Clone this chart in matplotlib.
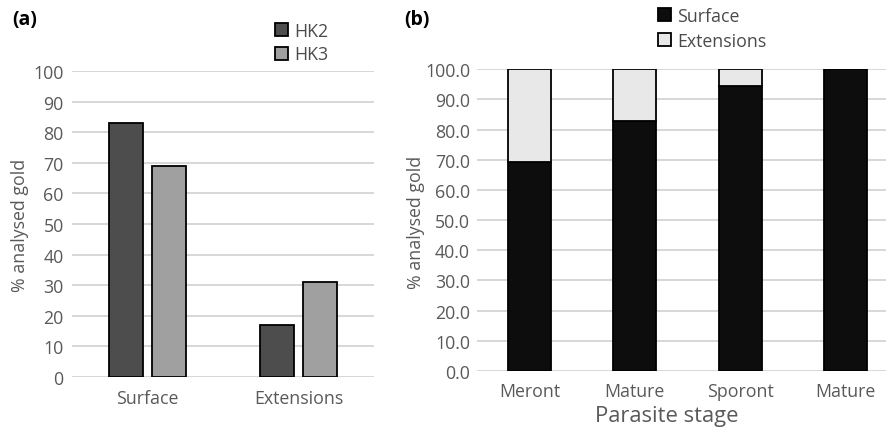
import matplotlib
matplotlib.use("Agg")
import matplotlib.pyplot as plt
import numpy as np

plt.rcParams['font.family'] = ['Open Sans', 'DejaVu Sans']

# Panel (a)
cats_a = ["Surface", "Extensions"]
hk2 = [83, 17]
hk3 = [69, 31]
yticks_a = [0, 10, 20, 30, 40, 50, 60, 70, 80, 90, 100]

# Panel (b)
stages = ["Meront", "Mature", "Sporont", "Mature"]
surface_b = [69.2, 82.8, 94.4, 100.0]
extensions_b = [30.8, 17.2, 5.6, 0.0]
yticks_b = [0, 10, 20, 30, 40, 50, 60, 70, 80, 90, 100]

TXT = "#595959"
GRID = "#d4d4d4"
FS = 12.8

fig = plt.figure(figsize=(8.87, 4.39), dpi=100)

# ---- panel a ----
axa = fig.add_axes([72/887, 1-378/439, (374-72)/887, (378-72)/439])
x = np.arange(len(cats_a))
w = 0.23
b1 = axa.bar(x - 0.1415, hk2, width=w, color="#4d4d4d", edgecolor="black", linewidth=1.3, label="HK2", zorder=3)
b2 = axa.bar(x + 0.1415, hk3, width=w, color="#a0a0a0", edgecolor="black", linewidth=1.3, label="HK3", zorder=3)
axa.set_xlim(-0.5, 1.5)
axa.set_ylim(0, 100)
axa.set_yticks(yticks_a)
axa.set_yticklabels([str(v) for v in yticks_a])
axa.set_xticks(x)
axa.set_xticklabels(cats_a)
axa.yaxis.grid(True, color=GRID, linewidth=1.3, zorder=0)
axa.set_axisbelow(True)
for s in axa.spines.values():
    s.set_visible(False)
axa.tick_params(axis='both', length=0, labelsize=FS, colors=TXT, pad=6)
axa.tick_params(axis='x', pad=9)
fig.text(20/887, 1-225/439, "% analysed gold", rotation=90, ha='center', va='center', fontsize=FS, color=TXT)
fig.text(12/887, 1-20/439, "(a)", ha='left', va='center', fontsize=14, fontweight='bold', color='black')
fig.legend(handles=[b1, b2], labels=["HK2", "HK3"], loc='upper left',
           bbox_to_anchor=(268/887, 1-16/439), frameon=False, fontsize=FS,
           handlelength=0.75, handleheight=0.75, handletextpad=0.35, labelspacing=0.3,
           borderaxespad=0, labelcolor="#4a4a4a")

# ---- panel b ----
axb = fig.add_axes([477/887, 1-372/439, (898-477)/887, (372-70.3)/439])
xb = np.arange(len(stages))
wb = 0.41
s1 = axb.bar(xb, surface_b, width=wb, color="#0d0d0d", edgecolor="black", linewidth=1.3, label="Surface", zorder=3)
s2 = axb.bar(xb, extensions_b, width=wb, bottom=surface_b, color="#e8e8e8", edgecolor="black", linewidth=1.3, label="Extensions", zorder=3)
axb.set_xlim(-0.5, 3.5)
axb.set_ylim(0, 100)
axb.set_yticks(yticks_b)
axb.set_yticklabels([f"{v:.1f}" for v in yticks_b])
axb.set_xticks(xb)
axb.set_xticklabels(stages)
axb.yaxis.grid(True, color=GRID, linewidth=1.3, zorder=0)
axb.set_axisbelow(True)
for s in axb.spines.values():
    s.set_visible(False)
axb.tick_params(axis='both', length=0, labelsize=FS, colors=TXT, pad=5)
axb.tick_params(axis='x', pad=8)
fig.text(416/887, 1-222/439, "% analysed gold", rotation=90, ha='center', va='center', fontsize=FS, color=TXT)
fig.text(667/887, 1-417/439, "Parasite stage", ha='center', va='center', fontsize=15.8, color=TXT)
fig.text(404/887, 1-20/439, "(b)", ha='left', va='center', fontsize=14, fontweight='bold', color='black')
fig.legend(handles=[s1, s2], labels=["Surface", "Extensions"], loc='upper left',
           bbox_to_anchor=(651/887, 1-0.5/439), frameon=False, fontsize=FS,
           handlelength=0.75, handleheight=0.75, handletextpad=0.3, labelspacing=0.4,
           borderaxespad=0, labelcolor="#4a4a4a")

fig.savefig("out.png", dpi=100)
